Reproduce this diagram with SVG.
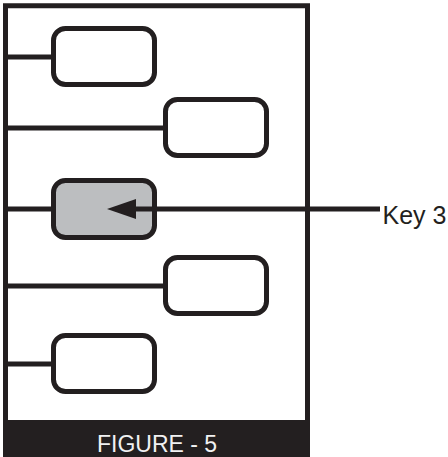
<svg xmlns="http://www.w3.org/2000/svg" width="448" height="457" viewBox="0 0 448 457">
  <defs>
    <style>
      .frame { fill: #ffffff; stroke: #231f20; stroke-width: 5; }
      .key { fill: #ffffff; stroke: #231f20; stroke-width: 5; }
      .key.active { fill: #bcbec0; }
      .wire { stroke: #231f20; stroke-width: 5; fill: none; }
      .label { font-family: "Liberation Sans", Arial, sans-serif; fill: #231f20; }
      .caption { font-family: "Liberation Sans", Arial, sans-serif; fill: #f1f1f2; }
    </style>
  </defs>
  <rect width="448" height="457" fill="#ffffff"/>
  <g id="frame">
    <rect class="frame" x="5.5" y="5.75" width="302" height="430"/>
    <rect x="3" y="420" width="307" height="37" fill="#231f20"/>
    <text class="caption" x="97" y="452" font-size="23">FIGURE - 5</text>
  </g>
  <g id="connectors">
    <line class="wire" x1="8" y1="57" x2="53.5" y2="57"/>
    <line class="wire" x1="8" y1="128" x2="165.5" y2="128"/>
    <line class="wire" x1="8" y1="209" x2="53.5" y2="209"/>
    <line class="wire" x1="8" y1="286" x2="165.5" y2="286"/>
    <line class="wire" x1="8" y1="364" x2="53.5" y2="364"/>
  </g>
  <g id="key1"><rect class="key" x="53.5" y="28.5" width="101" height="56" rx="12"/></g>
  <g id="key2"><rect class="key" x="165.5" y="99.5" width="101" height="56" rx="12"/></g>
  <g id="key3"><rect class="key active" x="53.5" y="180.5" width="101" height="57" rx="12"/></g>
  <g id="key4"><rect class="key" x="165.5" y="257.5" width="101" height="56" rx="12"/></g>
  <g id="key5"><rect class="key" x="53.5" y="335.5" width="101" height="56" rx="12"/></g>
  <g id="pointer">
    <line class="wire" x1="380" y1="209" x2="132" y2="209"/>
    <polygon points="107,209 136,199 136,219" fill="#231f20"/>
    <text class="label" x="382.5" y="223.5" font-size="25">Key 3</text>
  </g>
</svg>
